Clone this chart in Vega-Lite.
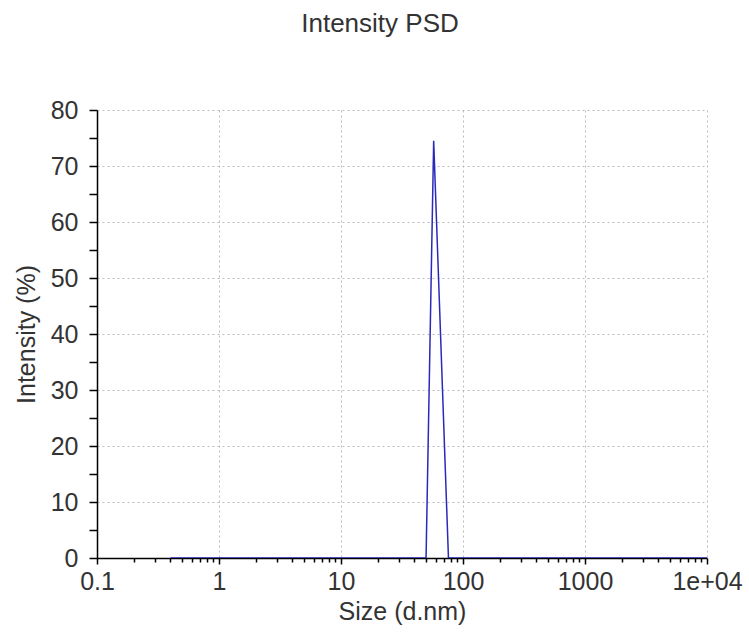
{
  "$schema": "https://vega.github.io/schema/vega-lite/v6.json",
  "width": 610,
  "height": 448,
  "autosize": {"type": "none"},
  "padding": {"left": 97, "top": 110, "right": 42, "bottom": 74},
  "background": "white",
  "title": {
    "text": "Intensity PSD",
    "font": "Liberation Sans",
    "fontSize": 26,
    "fontWeight": "normal",
    "color": "#333333",
    "baseline": "alphabetic",
    "offset": 40,
    "dx": -22
  },
  "config": {
    "view": {"stroke": null},
    "axis": {
      "labelFont": "Liberation Sans",
      "titleFont": "Liberation Sans",
      "labelFontSize": 25,
      "titleFontSize": 25,
      "titleFontWeight": "normal",
      "labelColor": "#333333",
      "titleColor": "#333333",
      "domainColor": "#000000",
      "domainWidth": 1.5,
      "tickColor": "#000000",
      "tickWidth": 1.5,
      "gridColor": "#bbbbbb",
      "gridDash": [2, 3],
      "gridWidth": 1,
      "zindex": 0
    }
  },
  "data": {
    "values": [
      {"size": 0.4, "intensity": 0},
      {"size": 49.8, "intensity": 0},
      {"size": 57.5, "intensity": 74.5},
      {"size": 76.0, "intensity": 0},
      {"size": 10000, "intensity": 0}
    ]
  },
  "mark": {"type": "line", "color": "#2a2ab8", "strokeWidth": 1.5, "clip": true},
  "encoding": {
    "x": {
      "field": "size",
      "type": "quantitative",
      "scale": {"type": "log", "domain": [0.1, 10000], "nice": false},
      "axis": {
        "title": "Size (d.nm)",
        "values": [0.1, 0.2, 0.3, 0.4, 0.5, 0.6, 0.7, 0.8, 0.9, 1, 2, 3, 4, 5, 6, 7, 8, 9, 10, 20, 30, 40, 50, 60, 70, 80, 90, 100, 200, 300, 400, 500, 600, 700, 800, 900, 1000, 2000, 3000, 4000, 5000, 6000, 7000, 8000, 9000, 10000],
        "labelExpr": "datum.value == 0.1 ? '0.1' : datum.value == 1 ? '1' : datum.value == 10 ? '10' : datum.value == 100 ? '100' : datum.value == 1000 ? '1000' : datum.value == 10000 ? '1e+04' : ''",
        "labelFlush": false,
        "labelOverlap": false,
        "labelPadding": 5,
        "tickSize": {"condition": {"test": "abs(log(datum.value)/log(10) - round(log(datum.value)/log(10))) < 0.001", "value": 6}, "value": 4},
        "gridOpacity": {"condition": {"test": "abs(log(datum.value)/log(10) - round(log(datum.value)/log(10))) < 0.001", "value": 1}, "value": 0},
        "grid": true,
        "titlePadding": 5
      }
    },
    "y": {
      "field": "intensity",
      "type": "quantitative",
      "scale": {"domain": [0, 80], "nice": false},
      "axis": {
        "title": "Intensity (%)",
        "values": [0, 5, 10, 15, 20, 25, 30, 35, 40, 45, 50, 55, 60, 65, 70, 75, 80],
        "labelExpr": "datum.value % 10 === 0 ? datum.label : ''",
        "labelOverlap": false,
        "labelFlush": false,
        "tickSize": 8,
        "labelPadding": 11,
        "grid": true,
        "gridOpacity": {"condition": {"test": "datum.value % 10 === 0", "value": 1}, "value": 0},
        "titlePadding": 11
      }
    }
  }
}
